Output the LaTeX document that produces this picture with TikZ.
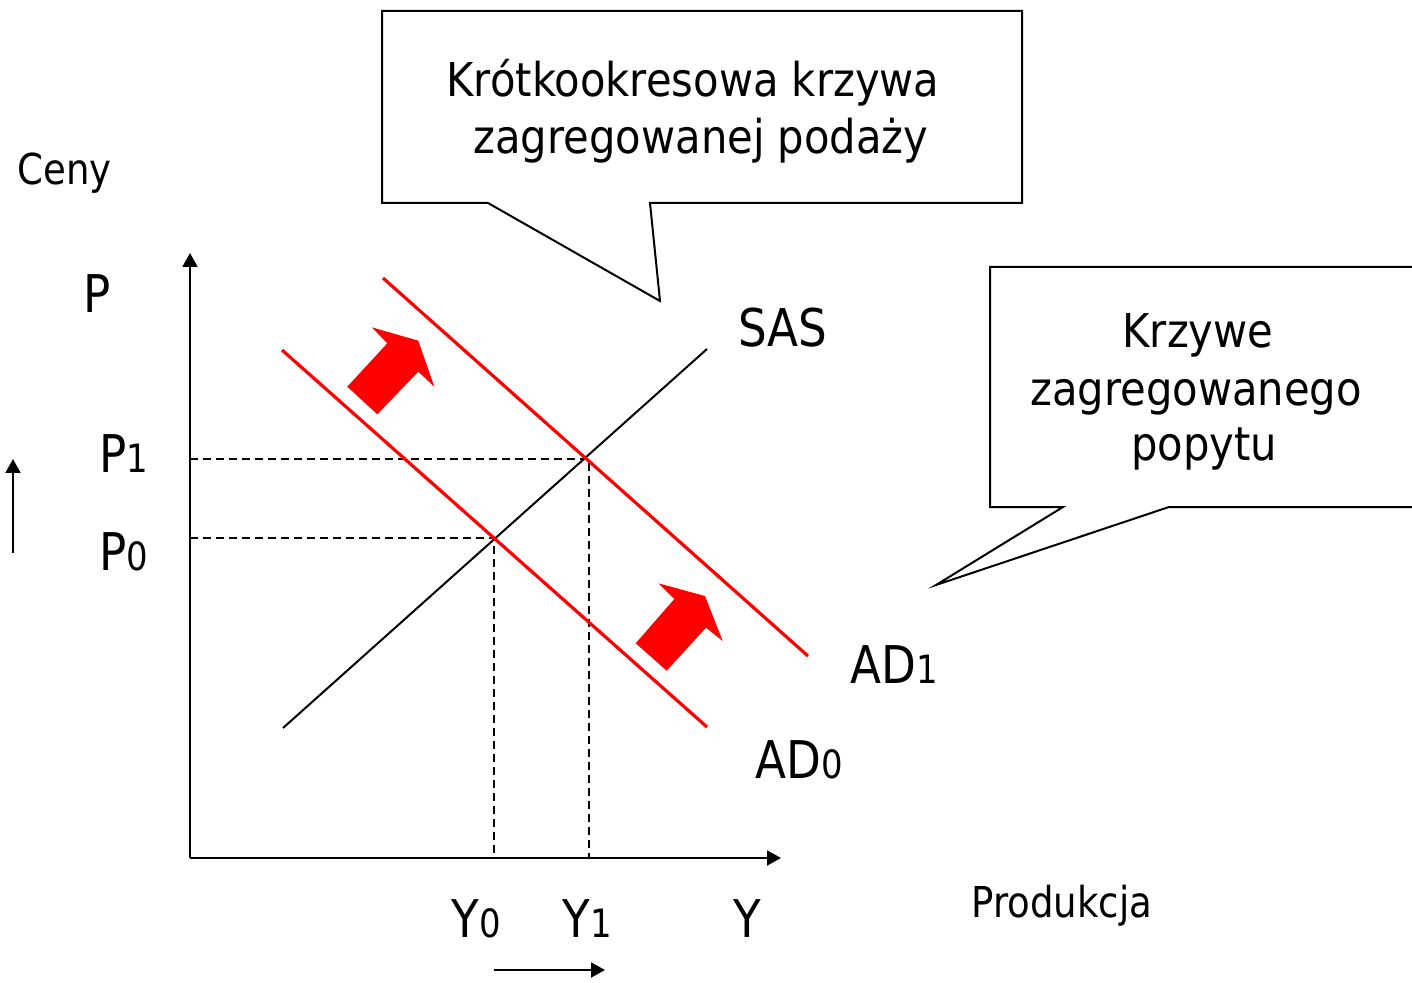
\documentclass[tikz,border=0pt]{standalone}
\usepackage{fontspec}
\setmainfont{DejaVu Sans}[FakeStretch=0.87]
\newfontfamily\callfont{DejaVu Sans}[FakeStretch=0.895]
\usetikzlibrary{arrows.meta}
\newcommand\dgt[1]{{\fontsize{19.5}{19.5}\selectfont #1}}
\tikzset{
  lbl/.style={anchor=base west, inner sep=0pt, font=\fontsize{26}{26}\selectfont},
  smalllbl/.style={anchor=base west, inner sep=0pt, font=\fontsize{21.3}{21.3}\selectfont},
  calltext/.style={inner sep=0pt, anchor=base, font=\callfont\fontsize{23.3}{24}\selectfont},
  axisline/.style={line width=1pt, -{Triangle[length=7pt,width=7.5pt]}},
  redline/.style={red, line width=1.6pt},
  sasline/.style={black, line width=1pt},
  guide/.style={line width=1pt, dash pattern=on 4pt off 2.5pt},
  callout/.style={draw, line width=1pt, line join=miter},
  shiftarrow/.style={fill=red, draw=none},
}
\begin{document}
\begin{tikzpicture}[x=0.5pt,y=-0.5pt]
\useasboundingbox (0,0) rectangle (1412,983);

% axes
\coordinate (O) at (190,858);
\coordinate (ytop) at (190,253);
\coordinate (xend) at (781,858);
\draw[axisline] (O) -- (ytop);
\draw[axisline] (O) -- (xend);

% guides
\coordinate (E0) at (494,538);
\coordinate (E1) at (589,459);
\coordinate (p0ax) at (190,538);
\coordinate (p1ax) at (190,459);
\coordinate (y0ax) at (494,858);
\coordinate (y1ax) at (589,858);
\draw[guide] (p1ax) -- (E1) -- (y1ax);
\draw[guide] (p0ax) -- (E0) -- (y0ax);

% curves
\coordinate (sasA) at (283,728);
\coordinate (sasB) at (707,349);
\coordinate (ad0A) at (282,350);
\coordinate (ad0B) at (707,727);
\coordinate (ad1A) at (383,278);
\coordinate (ad1B) at (808,656);
\draw[sasline] (sasA) -- (sasB);
\draw[redline] (ad0A) -- (ad0B);
\draw[redline] (ad1A) -- (ad1B);

% shift arrows
\fill[shiftarrow] (347.3,386.7) -- (387.3,343.3) -- (371.7,327.3) -- (418.3,340.7)
  -- (434.3,386.7) -- (418.3,371.7) -- (377.3,414.3) -- cycle;
\fill[shiftarrow] (635.7,643.3) -- (674.3,599) -- (658.3,583.3) -- (705,596)
  -- (722.7,641) -- (706,627.7) -- (666.7,670.7) -- cycle;

% small direction arrows
\coordinate (pa1) at (13,553);
\coordinate (pa2) at (13,459);
\coordinate (ya1) at (494,970);
\coordinate (ya2) at (605,970);
\draw[axisline] (pa1) -- (pa2);
\draw[axisline] (ya1) -- (ya2);

% labels
\node[smalllbl] (ceny) at (17,185) {Ceny};
\node[lbl] (P) at (83,313) {P};
\node[lbl] (P1) at (99,473) {P\dgt{1}};
\node[lbl] (P0) at (99,570) {P\dgt{0}};
\node[lbl] (SAS) at (738,347) {SAS};
\node[lbl] (AD1) at (850,683) {AD\dgt{1}};
\node[lbl] (AD0) at (755,778) {AD\dgt{0}};
\node[lbl] (Y0) at (451,937) {Y\dgt{0}};
\node[lbl] (Y1) at (562,937) {Y\dgt{1}};
\node[lbl] (Y) at (733,937) {Y};
\node[smalllbl] (prod) at (971,917) {Produkcja};

% callout 1
\draw[callout] (382,11) -- (1022,11) -- (1022,203) -- (650,203) -- (660,301)
  -- (488,203) -- (382,203) -- cycle;
\node[calltext] (c1a) at (693,97) {Krótkookresowa krzywa};
\node[calltext] (c1b) at (701,154) {zagregowanej podaży};

% callout 2
\draw[callout] (1430,267) -- (990,267) -- (990,507) -- (1063,507) -- (936,585)
  -- (1169,507) -- (1430,507);
\node[calltext] (c2a) at (1198,348) {Krzywe};
\node[calltext] (c2b) at (1196,406) {zagregowanego};
\node[calltext] (c2c) at (1204,460) {popytu};
\end{tikzpicture}
\end{document}
